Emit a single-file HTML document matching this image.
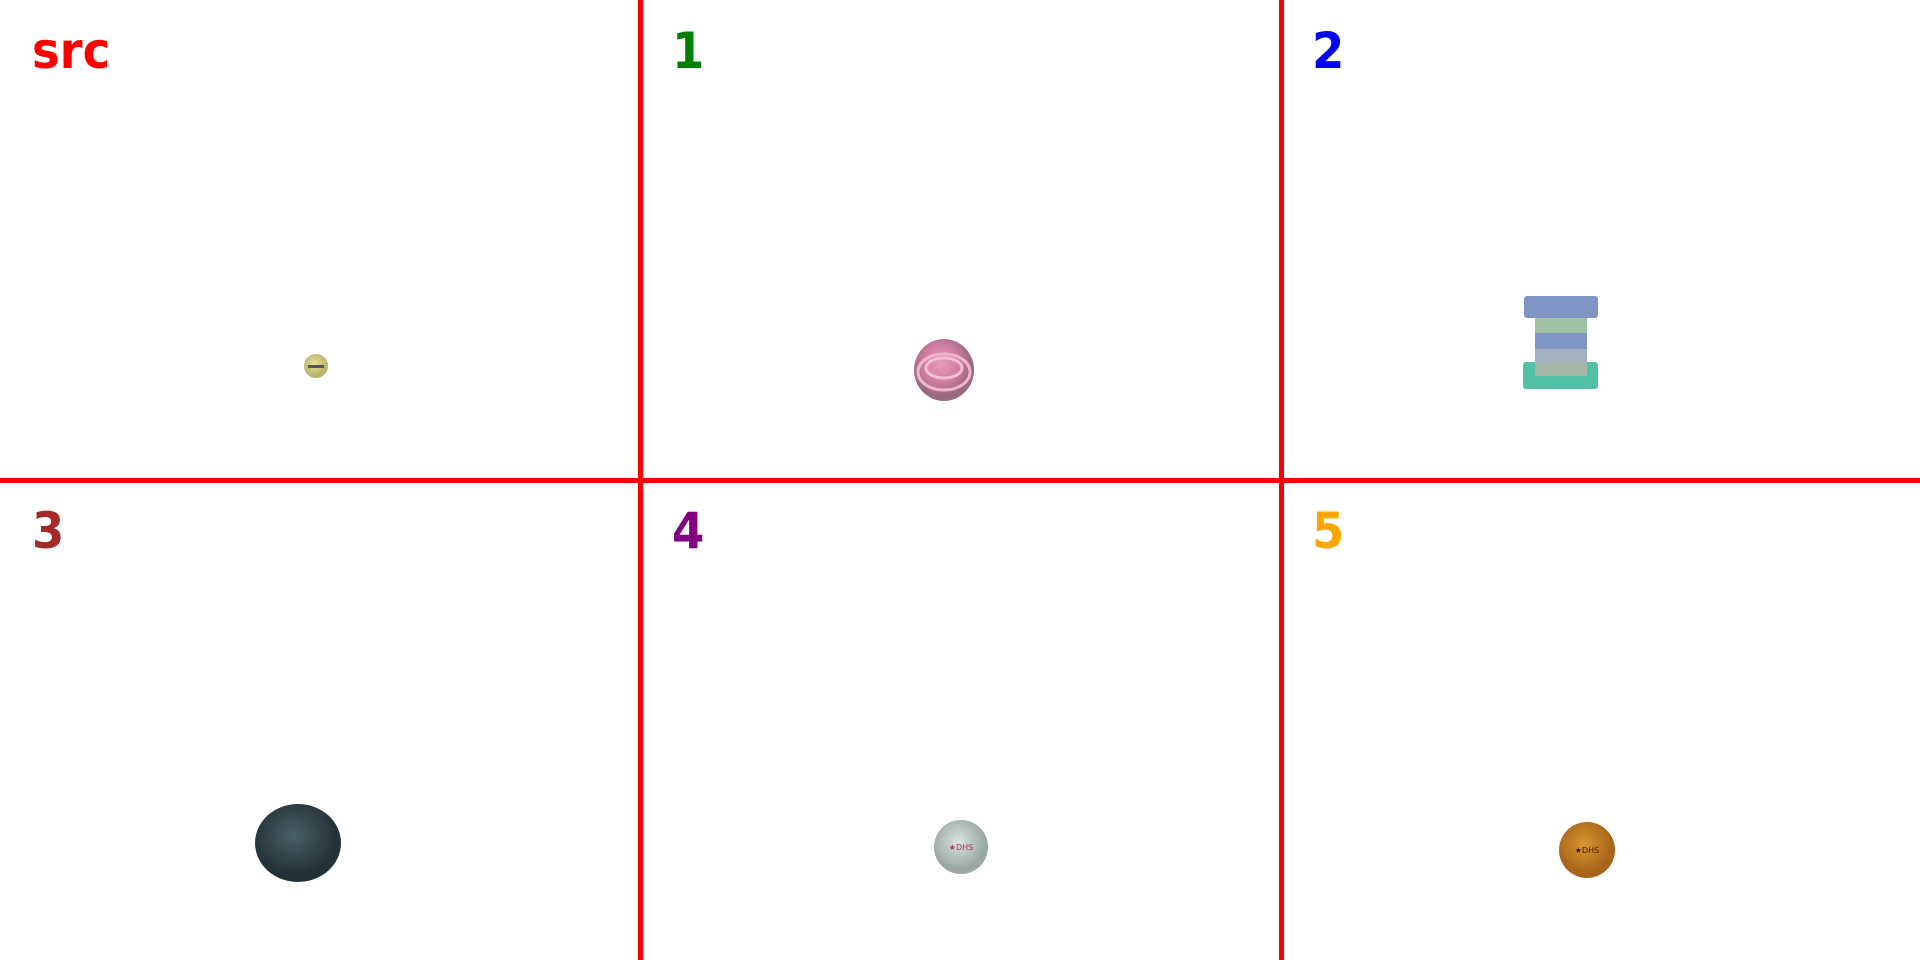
<!DOCTYPE html>
<html><head><meta charset="utf-8"><style>
html,body{margin:0;padding:0;background:#fff;}
#c{position:relative;width:1920px;height:960px;overflow:hidden;background:#fff;}
.lbl{position:absolute;font-family:"DejaVu Sans","Liberation Sans",sans-serif;font-weight:bold;font-size:50px;line-height:1;transform:scaleX(0.93);transform-origin:left top;}
.vl{position:absolute;top:0;width:5px;height:960px;background:#ff0000;}
.hl{position:absolute;left:0;height:5px;width:1920px;background:#ff0000;}
</style></head><body>
<div id="c">
<svg width="1920" height="960" style="position:absolute;left:0;top:0">
<defs>
<radialGradient id="gy" cx="0.45" cy="0.4"><stop offset="0" stop-color="#e6e29a"/><stop offset="1" stop-color="#b8b36a"/></radialGradient>
<radialGradient id="gp" cx="0.45" cy="0.4"><stop offset="0" stop-color="#e89ab8"/><stop offset="0.6" stop-color="#d07ea0"/><stop offset="1" stop-color="#9c6a80"/></radialGradient>
<radialGradient id="gd" cx="0.45" cy="0.4"><stop offset="0" stop-color="#4a6068"/><stop offset="1" stop-color="#233238"/></radialGradient>
<radialGradient id="gw" cx="0.45" cy="0.4"><stop offset="0" stop-color="#d8e4e0"/><stop offset="1" stop-color="#9aa8a4"/></radialGradient>
<radialGradient id="go" cx="0.45" cy="0.4"><stop offset="0" stop-color="#d9962e"/><stop offset="1" stop-color="#a8651a"/></radialGradient>
</defs>
<g><circle cx="316" cy="366" r="12" fill="url(#gy)"/><rect x="308" y="365" width="16" height="3" fill="#555"/></g>
<g><ellipse cx="944" cy="370" rx="30" ry="31" fill="url(#gp)"/><ellipse cx="944" cy="368" rx="18" ry="10" fill="none" stroke="#f2c0d4" stroke-width="3"/><ellipse cx="944" cy="372" rx="26" ry="18" fill="none" stroke="#f0b6cc" stroke-width="3"/></g>
<g>
<rect x="1524" y="296" width="74" height="22" rx="3" fill="#7f95c4"/>
<rect x="1535" y="318" width="52" height="15" fill="#a3c0a8"/>
<rect x="1535" y="333" width="52" height="16" fill="#7f95c4"/>
<rect x="1535" y="349" width="52" height="14" fill="#a4b0c0"/>
<rect x="1535" y="363" width="52" height="14" fill="#a3b6a8"/>
<rect x="1523" y="362" width="75" height="27" rx="3" fill="#52c0a4"/>
<rect x="1535" y="362" width="52" height="14" fill="#a3b6a8"/>
</g>
<g><ellipse cx="298" cy="843" rx="43" ry="39" fill="url(#gd)"/></g>
<g><circle cx="961" cy="847" r="27" fill="url(#gw)"/><text x="961" y="850" font-size="8" font-family="DejaVu Sans,sans-serif" fill="#c03050" text-anchor="middle">★DHS</text></g>
<g><circle cx="1587" cy="850" r="28" fill="url(#go)"/><text x="1587" y="853" font-size="8" font-family="DejaVu Sans,sans-serif" fill="#3a1a10" text-anchor="middle">★DHS</text></g>
</svg>
<div class="vl" style="left:638px"></div>
<div class="vl" style="left:1279px"></div>
<div class="hl" style="top:478px"></div>
<div class="lbl" style="left:32px;top:26px;color:#ff0000">src</div>
<div class="lbl" style="left:672px;top:26px;color:#008000">1</div>
<div class="lbl" style="left:1312px;top:26px;color:#0000ff">2</div>
<div class="lbl" style="left:32px;top:506px;color:#a52a2a">3</div>
<div class="lbl" style="left:672px;top:506px;color:#800080">4</div>
<div class="lbl" style="left:1312px;top:506px;color:#ffa500">5</div>
</div>
</body></html>
